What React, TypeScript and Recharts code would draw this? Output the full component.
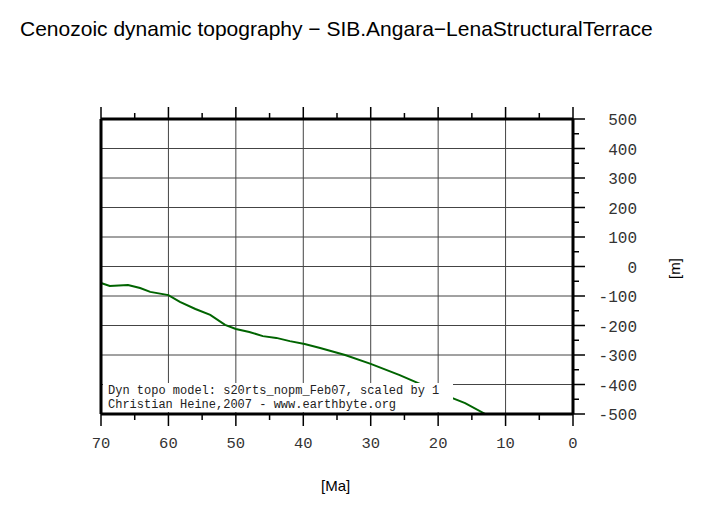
import {
  LineChart, Line, XAxis, YAxis, ReferenceLine,
} from "recharts";

// age [Ma] and dynamic topography [m]
const ages = [70, 68.7, 66, 64.2, 62.7, 60, 58.3, 56, 53.8, 51.6, 50, 48, 46, 44, 42, 39.8, 37.5, 33.8, 30, 25.7, 22.7, 19, 16, 13, 12];
const topo = [-56, -66, -63, -73, -86, -97, -120, -144, -164, -198, -212, -222, -236, -242, -253, -263, -276, -300, -330, -368, -398, -436, -463, -500, -515];

const xTicks = [0, 5, 10, 15, 20, 25, 30, 35, 40, 45, 50, 55, 60, 65, 70];
const xGrid = [10, 20, 30, 40, 50, 60];
const yTicks = [-500, -450, -400, -350, -300, -250, -200, -150, -100, -50, 0, 50, 100, 150, 200, 250, 300, 350, 400, 450, 500];
const yGrid = [-400, -300, -200, -100, 0, 100, 200, 300, 400];

const data = ages.map((age, i) => ({ age, topo: topo[i] }));

const MONO = "'Liberation Mono', 'DejaVu Sans Mono', monospace";
const SANS = "'Liberation Sans', Arial, sans-serif";
const frame = { stroke: "#000", strokeWidth: 3 };

function XTick(props: any) {
  const { x, y, payload, orient, labels } = props;
  const v = payload.value;
  const major = v % 10 === 0;
  const dir = orient === "top" ? -1 : 1;
  return (
    <g>
      <line x1={x} x2={x} y1={y} y2={y + dir * (major ? 12 : 6)} stroke="#000" strokeWidth={1.5} />
      {labels && major && (
        <text x={x} y={y + 34} textAnchor="middle" fontFamily={MONO} fontSize={15.5} fill="#333">
          {v}
        </text>
      )}
    </g>
  );
}

function YTick(props: any) {
  const { x, y, payload, orient, labels } = props;
  const v = payload.value;
  const major = v % 100 === 0;
  const dir = orient === "left" ? -1 : 1;
  return (
    <g>
      <line x1={x} x2={x + dir * (major ? 12 : 6)} y1={y} y2={y} stroke="#000" strokeWidth={1.5} />
      {labels && major && (
        <text x={x + 64} y={y + 6} textAnchor="end" fontFamily={MONO} fontSize={16} fill="#333">
          {v < 0 ? `-${Math.abs(v)}` : `${v}`}
        </text>
      )}
    </g>
  );
}

export default function App() {
  return (
    <div style={{ position: "absolute", left: 0, top: 0, width: 703, height: 515, background: "#fff" }}>
      <LineChart
        width={703}
        height={515}
        data={data}
        margin={{ top: 99, right: 50, bottom: 61, left: 81 }}
      >
        <XAxis
          xAxisId="b"
          dataKey="age"
          type="number"
          domain={[0, 70]}
          reversed
          orientation="bottom"
          height={40}
          ticks={xTicks}
          interval={0}
          tickSize={0}
          tickMargin={0}
          tickLine={false}
          axisLine={frame}
          tick={(p: any) => <XTick {...p} orient="bottom" labels />}
        />
        <XAxis
          xAxisId="t"
          dataKey="age"
          type="number"
          domain={[0, 70]}
          reversed
          orientation="top"
          height={20}
          ticks={xTicks}
          interval={0}
          tickSize={0}
          tickMargin={0}
          tickLine={false}
          axisLine={frame}
          tick={(p: any) => <XTick {...p} orient="top" />}
        />
        <YAxis
          yAxisId="l"
          type="number"
          domain={[-500, 500]}
          orientation="left"
          width={20}
          ticks={yTicks}
          interval={0}
          tickSize={0}
          tickMargin={0}
          tickLine={false}
          axisLine={frame}
          tick={(p: any) => <YTick {...p} orient="left" />}
        />
        <YAxis
          yAxisId="r"
          type="number"
          domain={[-500, 500]}
          allowDataOverflow
          orientation="right"
          width={80}
          ticks={yTicks}
          interval={0}
          tickSize={0}
          tickMargin={0}
          tickLine={false}
          axisLine={frame}
          tick={(p: any) => <YTick {...p} orient="right" labels />}
        />
        {xGrid.map((v) => (
          <ReferenceLine key={`x${v}`} x={v} xAxisId="b" yAxisId="r" stroke="#444" strokeWidth={1} />
        ))}
        {yGrid.map((v) => (
          <ReferenceLine key={`y${v}`} y={v} xAxisId="b" yAxisId="r" stroke="#444" strokeWidth={1} />
        ))}
        <Line
          xAxisId="b"
          yAxisId="r"
          dataKey="topo"
          type="linear"
          stroke="#006400"
          strokeWidth={2}
          dot={false}
          activeDot={false}
          isAnimationActive={false}
        />
      </LineChart>

      <div style={{ position: "absolute", left: 20, top: 17, fontFamily: SANS, fontSize: 21, color: "#000", whiteSpace: "nowrap" }}>
        Cenozoic dynamic topography − SIB.Angara−LenaStructuralTerrace
      </div>
      <div style={{ position: "absolute", left: 321, top: 477, fontFamily: SANS, fontSize: 15, color: "#000" }}>
        [Ma]
      </div>
      <div
        style={{
          position: "absolute", left: 664, top: 260, fontFamily: SANS, fontSize: 15, color: "#000",
          transform: "rotate(-90deg)", transformOrigin: "center",
        }}
      >
        [m]
      </div>
      <div
        style={{
          position: "absolute", left: 103, top: 383, width: 350, height: 29, background: "#fff",
          fontFamily: MONO, fontSize: 12, lineHeight: "14px", color: "#222", paddingLeft: 5, boxSizing: "border-box",
          paddingTop: 1, whiteSpace: "pre",
        }}
      >
        {"Dyn topo model: s20rts_nopm_Feb07, scaled by 1\nChristian Heine,2007 - www.earthbyte.org"}
      </div>
    </div>
  );
}
